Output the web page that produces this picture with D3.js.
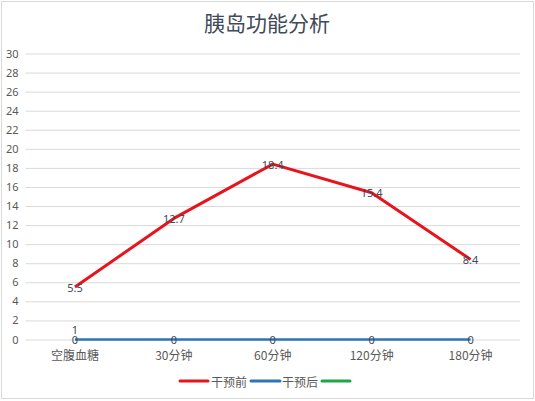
<!DOCTYPE html>
<html><head><meta charset="utf-8">
<script src="https://cdn.jsdelivr.net/npm/d3@7"></script>
<style>
html,body{margin:0;padding:0;background:#fff;}
text{font-family:"Noto Sans CJK SC","Noto Sans",sans-serif;}
</style></head>
<body>
<svg id="chart" width="535" height="401"></svg>
<script>
const categories = ["空腹血糖","30分钟","60分钟","120分钟","180分钟"];
const seriesNames = ["干预前","干预后",""];
const seriesColors = ["#e8141b","#2e75b6","#1fa64a"];
const before = [5.5, 12.7, 18.4, 15.4, 8.4];
const after = [0, 0, 0, 0, 0];
const third = [1, null, null, null, null];
const yTicks = [0,2,4,6,8,10,12,14,16,18,20,22,24,26,28,30];
const title = "胰岛功能分析";

(function(){
const series = [before, after, third];
const svg = d3.select("#chart");
svg.append("rect").attr("x",1.5).attr("y",1.5).attr("width",532).attr("height",397)
  .attr("fill","#fff").attr("stroke","#d9d9d9").attr("stroke-width",1);

const pLeft = 25.5, pRight = 520, pTop = 53.5, pBottom = 339.5;
const x = d3.scaleBand().domain(categories).range([pLeft,pRight]);
const y = d3.scaleLinear().domain([0,30]).range([pBottom,pTop]);

svg.append("text").attr("x",267).attr("y",22).attr("text-anchor","middle")
  .attr("dominant-baseline","central").attr("font-size",21).attr("font-weight",400)
  .attr("fill","#404a5a").text(title);

const yAxis = d3.axisLeft(y).tickValues(yTicks).tickSize(-(pRight-pLeft)).tickPadding(7);
const gy = svg.append("g").attr("transform",`translate(${pLeft},0)`).call(yAxis);
gy.select(".domain").remove();
gy.selectAll(".tick line").attr("stroke","#d9d9d9").attr("stroke-width",1);
gy.selectAll(".tick text").attr("fill","#595959").attr("font-size",11)
  .style("font-family","'Noto Sans','DejaVu Sans',sans-serif");

const xAxis = d3.axisBottom(x).tickSize(0).tickPadding(12);
const gx = svg.append("g").attr("transform",`translate(0,${pBottom})`).call(xAxis);
gx.select(".domain").remove();
gx.selectAll(".tick text").attr("fill","#595959").attr("font-size",12)
  .attr("dy","0.71em");

const cx = c => x(c) + x.bandwidth()/2;
const line = d3.line().defined(d=>d.v!=null).x(d=>cx(d.c)).y(d=>y(d.v));

[1,0,2].forEach(i=>{
  const pts = categories.map((c,j)=>({c, v: series[i][j]}));
  svg.append("path").datum(pts).attr("d",line).attr("fill","none")
    .attr("stroke",seriesColors[i]).attr("stroke-width", i===0?3:2.5)
    .attr("stroke-linejoin","round").attr("stroke-linecap","butt");
});
[0,1,2].forEach(i=>{
  categories.forEach((c,j)=>{
    const v = series[i][j];
    if (v==null) return;
    svg.append("text").attr("x",cx(c)).attr("y",y(v)).attr("text-anchor","middle")
      .attr("dominant-baseline","central").attr("font-size",11).attr("fill","#404a5a")
      .style("font-family","'Noto Sans','DejaVu Sans',sans-serif").text(v);
  });
});

const legendY = 381;
const legendItems = [{x:180,w:28,tx:211},{x:251,w:29,tx:282},{x:322,w:28,tx:null}];
legendItems.forEach((it,i)=>{
  svg.append("line").attr("x1",it.x).attr("x2",it.x+it.w).attr("y1",legendY).attr("y2",legendY)
    .attr("stroke",seriesColors[i]).attr("stroke-width",3).attr("stroke-linecap","round");
  if (seriesNames[i]) svg.append("text").attr("x",it.tx).attr("y",legendY).attr("dominant-baseline","central")
    .attr("font-size",12).attr("fill","#595959").text(seriesNames[i]);
});
})();
</script>
</body></html>
